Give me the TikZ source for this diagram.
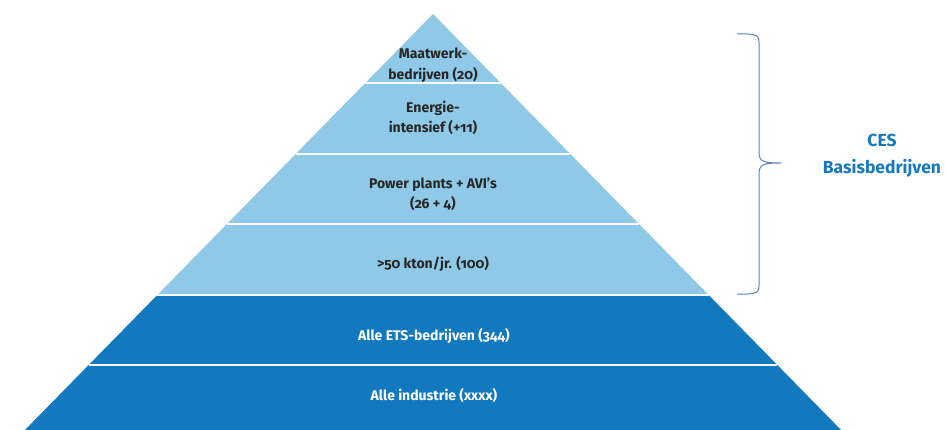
\documentclass[tikz,border=0pt]{standalone}
\usepackage{fontspec}
\setmainfont{Fira Sans}[Numbers=OldStyle]
\begin{document}
\definecolor{lightband}{HTML}{8FC9E7}
\definecolor{darkband}{HTML}{1279BF}
\definecolor{bracecol}{HTML}{5B7FC6}
\definecolor{cestext}{HTML}{1878BE}
\begin{tikzpicture}[x=1pt,y=-1pt,
  bandlabel/.style={font=\bfseries\fontsize{14}{20.5}\selectfont,align=center,text=black!85},
  darklabel/.style={bandlabel,text=white},
  divider/.style={draw=white!92!lightband,line width=1.6pt}]
\useasboundingbox (0,0) rectangle (946,430);
% pyramid outline: apex (433,14), half-width grows 0.981 per unit height
\def\hw#1{0.981*(#1-14)}
\fill[lightband] (433,14) -- ({433-\hw{295}},295) -- ({433+\hw{295}},295) -- cycle;
\fill[darkband] ({433-\hw{295}},295) -- ({433-\hw{430}},430) -- ({433+\hw{430}},430) -- ({433+\hw{295}},295) -- cycle;
% band dividers
\foreach \yy in {83,154,224,295,365}
  \draw[divider] ({433-\hw{\yy}},\yy) -- ({433+\hw{\yy}},\yy);
% band labels
\node[bandlabel] (maat) at (433,65) {Maatwerk-\\bedrijven (20)};
\node[bandlabel] (energie) at (433,118) {Energie-\\intensief (+11)};
\node[bandlabel] (power) at (433,194.5) {Power plants + AVI’s\\(26 + 4)};
\node[bandlabel] (kton) at (433,264) {>50 kton/jr. (100)};
\node[darklabel] (ets) at (434,336) {Alle ETS-bedrijven (344)};
\node[darklabel] (ind) at (434,396) {Alle industrie (xxxx)};
% curly brace
\coordinate (btop) at (737,34);
\coordinate (bbot) at (737,294);
\coordinate (btip) at (781,163);
\draw[bracecol,line width=1pt,line cap=round]
  (btop) .. controls (752,34) and (759,33) .. (759,42)
  -- (759,152) .. controls (759,162) and (764,163) .. (btip)
  (btip) .. controls (764,163) and (759,164) .. (759,174)
  -- (759,286) .. controls (759,295) and (752,294) .. (bbot);
\node[font=\bfseries\fontsize{17.5}{27}\selectfont,text=cestext,align=center] (ces) at (882,156) {CES\\Basisbedrijven};
\end{tikzpicture}
\end{document}
